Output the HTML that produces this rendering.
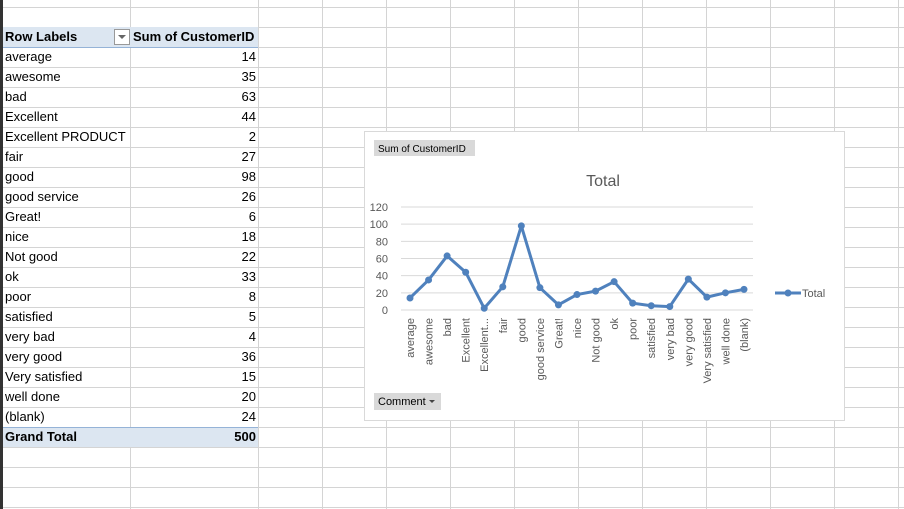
<!DOCTYPE html>
<html><head><meta charset="utf-8"><style>
body{margin:0;width:904px;height:509px;overflow:hidden;background:#fff;font-family:"Liberation Sans",sans-serif;position:relative}
.grid{position:absolute;left:0;top:0}
.cell{position:absolute;font-size:13px;height:20px;line-height:20px;color:#000}
</style></head><body>
<svg class="grid" width="904" height="509" id="g"></svg>
<div id="tbl"></div>
<div style="position:absolute;left:364px;top:131px;width:479px;height:288px;background:#fff;border:1px solid #d9d9d9"></div>
<svg width="904" height="509" style="position:absolute;left:0;top:0" id="c"></svg>
<script>
const categories=["average","awesome","bad","Excellent","Excellent PRODUCT","fair","good","good service","Great!","nice","Not good","ok","poor","satisfied","very bad","very good","Very satisfied","well done","(blank)"];
const axisLabels=["average","awesome","bad","Excellent","Excellent...","fair","good","good service","Great!","nice","Not good","ok","poor","satisfied","very bad","very good","Very satisfied","well done","(blank)"];
const values=[14,35,63,44,2,27,98,26,6,18,22,33,8,5,4,36,15,20,24];
const yTicks=[0,20,40,60,80,100,120];
const NS="http://www.w3.org/2000/svg";
function mk(p,t,a,txt){const e=document.createElementNS(NS,t);for(const k in a)e.setAttribute(k,a[k]);if(txt!=null)e.textContent=txt;p.appendChild(e);return e;}
const g=document.getElementById('g');
for(let y=7;y<509;y+=20){const l=mk(g,'line',{x1:0,x2:904,y1:y+0.5,y2:y+0.5,stroke:'#d4d4d4'});}
[130,258].concat([322,386,450,514,578,642,706,770,834,898]).forEach(x=>{const l=mk(g,'line',{x1:x+0.5,x2:x+0.5,y1:0,y2:509,stroke:'#d4d4d4'});});
mk(g,'rect',{x:0,y:0,width:3,height:509,fill:'#333'});
mk(g,'rect',{x:3,y:27,width:255,height:20,fill:'#dce6f1'});
mk(g,'line',{x1:3,x2:258,y1:47.5,y2:47.5,stroke:'#95b3d7'});
mk(g,'rect',{x:3,y:427,width:255,height:20,fill:'#dce6f1'});
mk(g,'line',{x1:3,x2:258,y1:427.5,y2:427.5,stroke:'#95b3d7'});
mk(g,'rect',{x:114.5,y:29.5,width:15,height:15,fill:'#fff',stroke:'#999'});
mk(g,'path',{d:'M118 35 L126 35 L122 39 Z',fill:'#666'});
const tbl=document.getElementById('tbl');
function cell(x,y,txt,opts){const d=document.createElement('div');d.className='cell';d.style.top=y+'px';d.textContent=txt;Object.assign(d.style,opts||{});d.style.left=x+'px';tbl.appendChild(d);return d;}
let h=cell(5,27,'Row Labels',{fontWeight:'bold'});
h=cell(133,27,'Sum of CustomerID',{fontWeight:'bold'});
categories.forEach((c,i)=>{const y=47+i*20;
 let a=cell(5,y,c);
 let b=cell(130,y,values[i],{width:'126px',textAlign:'right'});});
let t=cell(5,427,'Grand Total',{fontWeight:'bold'});
t=cell(130,427,values.reduce((a,b)=>a+b,0),{width:'126px',textAlign:'right',fontWeight:'bold'});
// chart
const c=document.getElementById('c');
const X0=410,XS=(744-410)/18,Y0=310,YS=(310-207)/120;
const xp=i=>X0+i*XS, yp=v=>Y0-v*YS;
yTicks.forEach(v=>{const l=mk(c,'line',{x1:401,x2:753,y1:yp(v),y2:yp(v),stroke:v?'#d9d9d9':'#d9d9d9'});
 const tx=mk(c,'text',{x:388,y:yp(v)+4,'font-size':11,fill:'#595959','text-anchor':'end'},v);});
axisLabels.forEach((s,i)=>{const tx=mk(c,'text',{transform:`translate(${xp(i)+4},318) rotate(-90)`,'font-size':11,fill:'#595959','text-anchor':'end'},s);});
const pl=mk(c,'polyline',{points:values.map((v,i)=>xp(i)+','+yp(v)).join(' '),fill:'none',stroke:'#4f81bd','stroke-width':3,'stroke-linejoin':'round'});

values.forEach((v,i)=>{const p=mk(c,'circle',{cx:xp(i),cy:yp(v),r:3.5,fill:'#4f81bd'});});
let e=mk(c,'text',{x:603,y:186,'font-size':16,fill:'#595959','text-anchor':'middle'},'Total');
e=mk(c,'line',{x1:775,x2:801,y1:293,y2:293,stroke:'#4f81bd','stroke-width':3});
mk(c,'circle',{cx:788,cy:293,r:3.5,fill:'#4f81bd'});
e=mk(c,'text',{x:802,y:297,'font-size':11,fill:'#595959'},'Total');
e=mk(c,'rect',{x:374,y:140,width:101,height:16,fill:'#d9d9d9'});
mk(c,'text',{x:378,y:152,'font-size':10,fill:'#000'},'Sum of CustomerID');
e=mk(c,'rect',{x:374,y:393,width:67,height:17,fill:'#d9d9d9'});
mk(c,'text',{x:378,y:405,'font-size':11,fill:'#000'},'Comment');
mk(c,'path',{d:'M429 400 L435 400 L432 403 Z',fill:'#444'});
</script>
</body></html>
